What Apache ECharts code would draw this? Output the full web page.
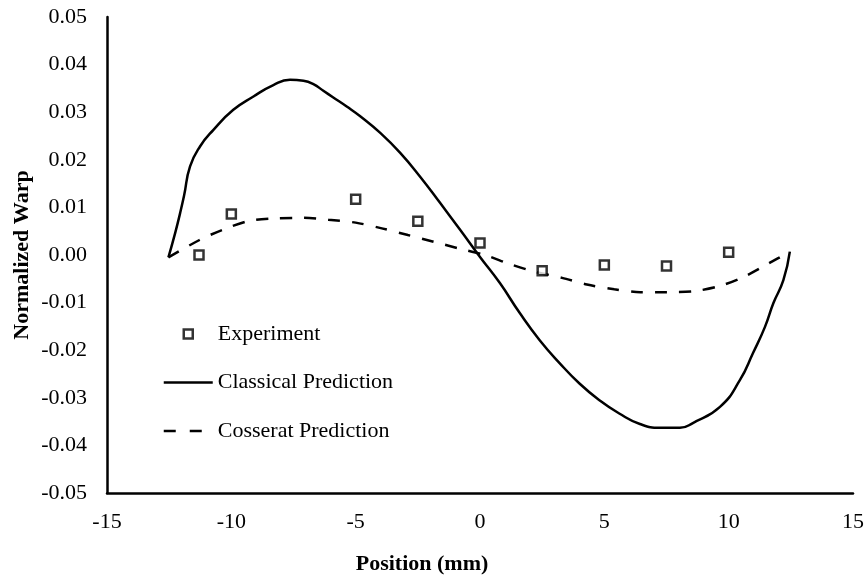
<!DOCTYPE html>
<html>
<head>
<meta charset="utf-8">
<title>Normalized Warp vs Position</title>
<script src="https://cdn.jsdelivr.net/npm/echarts@6/dist/echarts.min.js"></script>
<style>
  html, body { margin: 0; padding: 0; background: #fff; }
  #chart { width: 867px; height: 577px; }
</style>
</head>
<body>
<div id="chart"></div>
<script>
// Measured warp along the specimen
const expX = [-11.3, -10, -5, -2.5, 0, 2.5, 5, 7.5, 10];
const expY = [0.0000, 0.0086, 0.0117, 0.0071, 0.0025, -0.0033, -0.0021, -0.0023, 0.0006];

// Classical elasticity prediction
const classicalX = [-12.53, -12.26, -12.06, -11.9, -11.66, -11.26, -10.72, -9.92, -9.11, -8.31,
  -7.64, -7.1, -6.7, -6.3, -5.9, -5.36, -4.83, -4.0, -3.2, -2.4, -1.6, -0.8, 0,
  0.8, 1.6, 2.4, 3.2, 4.0, 4.8, 5.6, 6.43, 7.24, 8.04,
  8.56, 9.65, 10.45, 10.98, 11.46, 11.8, 12.2, 12.46];
const classicalY = [-0.0005, 0.0046, 0.0088, 0.0125, 0.0186, 0.0228, 0.0263, 0.0305, 0.0333, 0.0357,
  0.0368, 0.0366, 0.0359, 0.0345, 0.0331, 0.0312, 0.0292, 0.0256, 0.0214, 0.0164, 0.0109, 0.0053, -0.0004,
  -0.0059, -0.0122, -0.0179, -0.0227, -0.0270, -0.0305, -0.0333, -0.0355, -0.0363, -0.0363,
  -0.0353, -0.0319, -0.0263, -0.0206, -0.0151, -0.0101, -0.0053, 0.0007];

// Cosserat elasticity prediction
const cosseratX = [-12.53, -11.3, -10.3, -9.25, -8.2, -7.1, -6.1, -5.0, -3.95, -2.9,
  -1.87, -0.87, 0.2, 1.2, 2.2, 3.3, 4.3, 5.4, 6.45, 7.5,
  8.6, 9.65, 10.6, 11.6, 12.46];
const cosseratY = [-0.0005, 0.0031, 0.0054, 0.0072, 0.0077, 0.0078, 0.0074, 0.0068, 0.0056, 0.0042,
  0.0028, 0.0014, 0.0000, -0.0019, -0.0035, -0.0048, -0.0062, -0.0072, -0.0078, -0.0078,
  -0.0076, -0.0065, -0.0046, -0.0018, 0.0007];

// Axis ranges and tick steps
const xRange = { min: -15, max: 15, step: 5 };
const yRange = { min: -0.05, max: 0.05, step: 0.01 };

const pair = (xs, ys) => xs.map((x, i) => [x, ys[i]]);

const FONT = "'Liberation Serif', 'Times New Roman', serif";

// Legend keys for the two curves show only the stroke, no marker
const hiddenMarker = { color: 'rgba(0,0,0,0)', borderColor: 'rgba(0,0,0,0)', borderWidth: 0, opacity: 0 };

const chart = echarts.init(document.getElementById('chart'), null, { renderer: 'canvas' });

chart.setOption({
  animation: false,
  backgroundColor: '#ffffff',
  textStyle: { fontFamily: FONT, color: '#000' },
  grid: {
    left: 107, right: 14, top: 17, bottom: 84,
    containLabel: false,
    outerBoundsMode: 'none'
  },
  legend: {
    orient: 'vertical',
    left: 162.5,
    top: 323,
    padding: 0,
    itemWidth: 49,
    itemHeight: 9,
    itemGap: 26.5,
    symbolKeepAspect: true,
    selectedMode: false,
    textStyle: { fontFamily: FONT, fontSize: 22, color: '#000' },
    data: [
      {
        name: 'Experiment',
        icon: 'path://M0 0H10V10H0Z',
        itemStyle: { color: '#fff', borderColor: '#000', borderWidth: 2.5 }
      },
      {
        name: 'Classical Prediction',
        itemStyle: hiddenMarker,
        lineStyle: { color: '#000', width: 2.5, type: 'solid' }
      },
      {
        name: 'Cosserat Prediction',
        itemStyle: hiddenMarker,
        lineStyle: { color: '#000', width: 2.5, type: [12, 14] }
      }
    ]
  },
  xAxis: {
    type: 'value',
    min: xRange.min,
    max: xRange.max,
    interval: xRange.step,
    name: 'Position (mm)',
    nameLocation: 'middle',
    nameGap: 60,
    nameMoveOverlap: false,
    nameTextStyle: {
      fontFamily: FONT, fontSize: 22, fontWeight: 'bold', color: '#000',
      padding: [0, 116, 0, 0]
    },
    axisLine: { onZero: false, lineStyle: { color: '#000', width: 2.5 } },
    axisTick: { show: false },
    splitLine: { show: false },
    axisLabel: {
      fontFamily: FONT, fontSize: 22, color: '#000', margin: 18,
      formatter: v => String(v)
    }
  },
  yAxis: {
    type: 'value',
    min: yRange.min,
    max: yRange.max,
    interval: yRange.step,
    name: 'Normalized Warp',
    nameLocation: 'middle',
    nameGap: 74,
    nameMoveOverlap: false,
    nameTextStyle: { fontFamily: FONT, fontSize: 22, fontWeight: 'bold', color: '#000' },
    axisLine: { onZero: false, lineStyle: { color: '#000', width: 2.5 } },
    axisTick: { show: false },
    splitLine: { show: false },
    axisLabel: {
      fontFamily: FONT, fontSize: 22, color: '#000', margin: 20,
      formatter: v => v.toFixed(2)
    }
  },
  series: [
    {
      name: 'Experiment',
      type: 'scatter',
      data: pair(expX, expY),
      symbol: 'rect',
      symbolSize: 9,
      itemStyle: { color: '#fff', borderColor: '#000', borderWidth: 2.5 },
      z: 5
    },
    {
      name: 'Classical Prediction',
      type: 'line',
      data: pair(classicalX, classicalY),
      symbol: 'none',
      smooth: 0.5,
      color: '#000',
      lineStyle: { color: '#000', width: 2.5 },
      z: 3
    },
    {
      name: 'Cosserat Prediction',
      type: 'line',
      data: pair(cosseratX, cosseratY),
      symbol: 'none',
      smooth: 0.3,
      color: '#000',
      lineStyle: { color: '#000', width: 2.5, type: [12, 12] },
      z: 3
    }
  ]
});
</script>
</body>
</html>
